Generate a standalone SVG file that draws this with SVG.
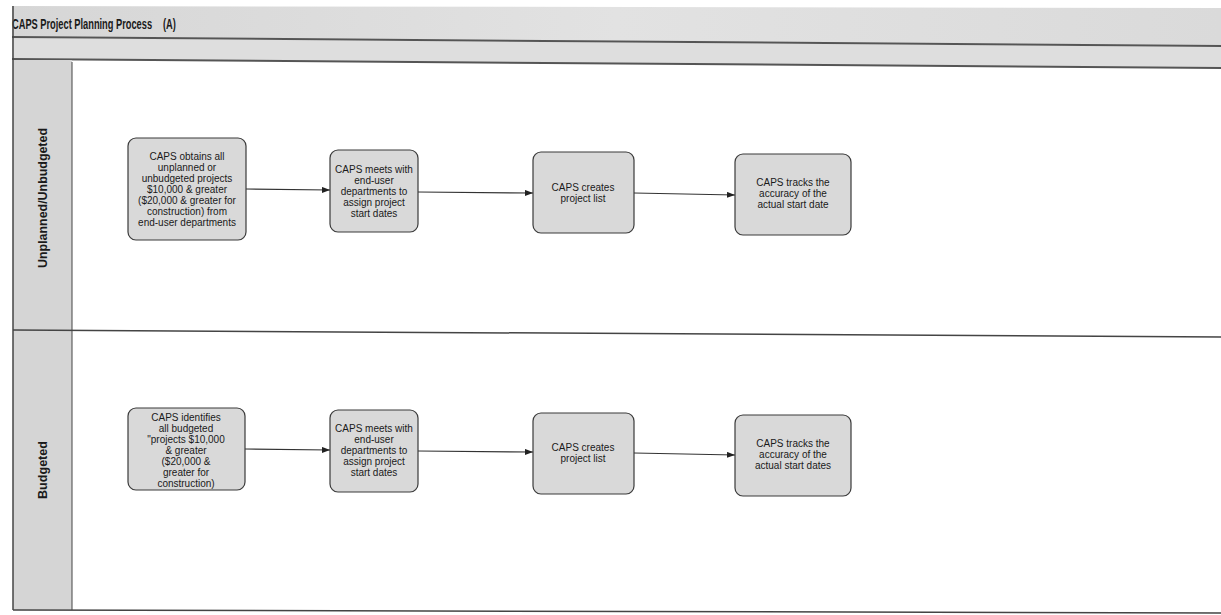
<svg xmlns="http://www.w3.org/2000/svg" width="1221" height="615" viewBox="0 0 1221 615">
<style>
.box{fill:#d9d9d9;stroke:#3a3a3a;stroke-width:1.2}
.t{font-family:"Liberation Sans",Arial,sans-serif;font-size:10px;fill:#1a1a1a;text-anchor:middle}
.lane{font-family:"Liberation Sans",Arial,sans-serif;font-size:13px;font-weight:bold;fill:#1a1a1a;text-anchor:middle}
.title{font-family:"Liberation Sans",Arial,sans-serif;font-size:14.5px;font-weight:bold;fill:#1a1a1a}
.edge{stroke:#333;stroke-width:1.2;fill:none;marker-end:url(#ah)}
.frame{stroke:#444;fill:none}
</style>
<defs>
<marker id="ah" markerWidth="8" markerHeight="6" refX="8" refY="3" orient="auto" markerUnits="userSpaceOnUse">
<path d="M0,0 L8,3 L0,6 z" fill="#222"/>
</marker>
<linearGradient id="bg" x1="0" y1="0" x2="1" y2="0">
<stop offset="0" stop-color="#d6d6d6"/><stop offset="0.5" stop-color="#e2e2e2"/><stop offset="1" stop-color="#dadada"/>
</linearGradient>
</defs>
<rect width="1221" height="615" fill="#ffffff"/>
<g id="header">
<polygon points="12,6 1221,8 1221,46 12,37" fill="url(#bg)"/>
<polygon points="12,38 1221,47 1221,68 12,59" fill="#dedede"/>
<line x1="12" y1="37" x2="1221" y2="46" stroke="#555" stroke-width="2"/>
<line x1="12" y1="59" x2="1221" y2="68" stroke="#555" stroke-width="2"/>
<text class="title" transform="translate(12,29) scale(0.64,1)" x="0" y="0">CAPS Project Planning Process<tspan x="236">(A)</tspan></text>
</g>
<g id="lanes">
<rect x="13" y="60" width="59" height="550" fill="#d5d5d5"/>
<line class="frame" x1="13" y1="6" x2="13" y2="610" stroke-width="1.5"/>
<line class="frame" x1="72" y1="62" x2="72" y2="610" stroke-width="1"/>
<line class="frame" x1="13" y1="330" x2="1221" y2="337" stroke-width="1.5"/>
<line class="frame" x1="13" y1="610" x2="1221" y2="613" stroke-width="1.5"/>
<text class="lane" transform="translate(47,198) rotate(-90)" textLength="140" lengthAdjust="spacingAndGlyphs">Unplanned/Unbudgeted</text>
<text class="lane" transform="translate(47,470) rotate(-90)" textLength="58" lengthAdjust="spacingAndGlyphs">Budgeted</text>
</g>
<g id="connectors">
<line class="edge" x1="246" y1="189" x2="330" y2="190"/>
<line class="edge" x1="418" y1="192" x2="533" y2="193"/>
<line class="edge" x1="634" y1="193" x2="735" y2="195"/>
<line class="edge" x1="245" y1="449" x2="330" y2="450"/>
<line class="edge" x1="418" y1="451" x2="533" y2="452"/>
<line class="edge" x1="634" y1="453" x2="735" y2="455"/>
</g>
<g id="n1">
<rect class="box" x="128" y="138" width="118" height="102" rx="8"/>
<text class="t" x="187" y="160">CAPS obtains all</text>
<text class="t" x="187" y="171">unplanned or</text>
<text class="t" x="187" y="182">unbudgeted projects</text>
<text class="t" x="187" y="193">$10,000 &amp; greater</text>
<text class="t" x="187" y="204">($20,000 &amp; greater for</text>
<text class="t" x="187" y="215">construction) from</text>
<text class="t" x="187" y="226">end-user departments</text>
</g>
<g id="n2">
<rect class="box" x="330" y="150" width="88" height="82" rx="8"/>
<text class="t" x="374" y="173">CAPS meets with</text>
<text class="t" x="374" y="184">end-user</text>
<text class="t" x="374" y="195">departments to</text>
<text class="t" x="374" y="206">assign project</text>
<text class="t" x="374" y="217">start dates</text>
</g>
<g id="n3">
<rect class="box" x="533" y="152" width="101" height="81" rx="8"/>
<text class="t" x="583" y="191">CAPS creates</text>
<text class="t" x="583" y="202">project list</text>
</g>
<g id="n4">
<rect class="box" x="735" y="154" width="116" height="81" rx="8"/>
<text class="t" x="793" y="186">CAPS tracks the</text>
<text class="t" x="793" y="197">accuracy of the</text>
<text class="t" x="793" y="208">actual start date</text>
</g>
<g id="n5">
<rect class="box" x="128" y="408" width="117" height="82" rx="8"/>
<text class="t" x="186" y="421">CAPS identifies</text>
<text class="t" x="186" y="432">all budgeted</text>
<text class="t" x="186" y="443">"projects $10,000</text>
<text class="t" x="186" y="454">&amp; greater</text>
<text class="t" x="186" y="465">($20,000 &amp;</text>
<text class="t" x="186" y="476">greater for</text>
<text class="t" x="186" y="487">construction)</text>
</g>
<g id="n6">
<rect class="box" x="330" y="410" width="88" height="82" rx="8"/>
<text class="t" x="374" y="432">CAPS meets with</text>
<text class="t" x="374" y="443">end-user</text>
<text class="t" x="374" y="454">departments to</text>
<text class="t" x="374" y="465">assign project</text>
<text class="t" x="374" y="476">start dates</text>
</g>
<g id="n7">
<rect class="box" x="533" y="413" width="101" height="81" rx="8"/>
<text class="t" x="583" y="451">CAPS creates</text>
<text class="t" x="583" y="462">project list</text>
</g>
<g id="n8">
<rect class="box" x="735" y="415" width="116" height="81" rx="8"/>
<text class="t" x="793" y="447">CAPS tracks the</text>
<text class="t" x="793" y="458">accuracy of the</text>
<text class="t" x="793" y="469">actual start dates</text>
</g>
</svg>
